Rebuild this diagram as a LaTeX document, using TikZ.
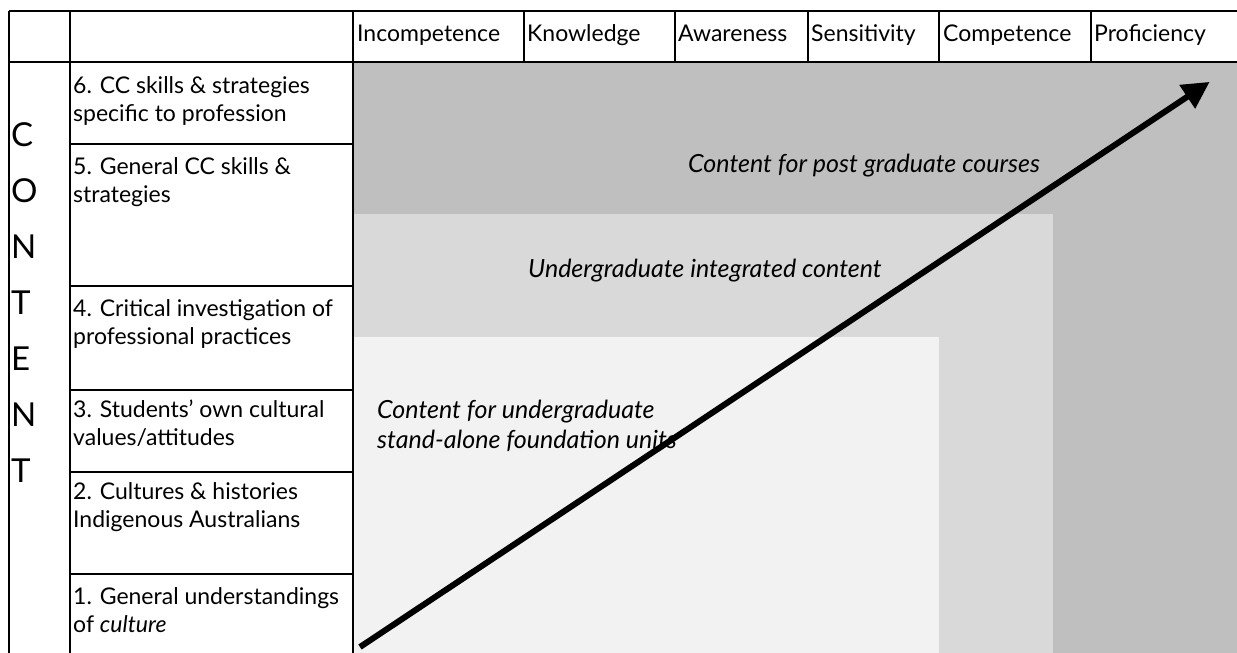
\documentclass[tikz,border=0pt]{standalone}
\usepackage{fontspec}
\setmainfont{Lato}
\usetikzlibrary{arrows.meta}
\definecolor{gdark}{HTML}{BFBFBF}
\definecolor{gmid}{HTML}{D9D9D9}
\definecolor{glight}{HTML}{F2F2F2}
\tikzset{
  gridline/.style={line width=1.6pt, black},
  celltext/.style={anchor=base west, inner sep=0pt, align=left, font=\fontsize{23}{28}\selectfont},
  headtext/.style={anchor=base west, inner sep=0pt, font=\fontsize{23}{24}\selectfont},
  zonetext/.style={anchor=base west, inner sep=0pt, align=left, font=\fontsize{25}{30}\selectfont\itshape},
  letter/.style={anchor=base west, inner sep=0pt, font=\fontsize{33}{33}\selectfont},
  bigarrow/.style={line width=6pt, -{Triangle[length=27pt,width=27pt]}, shorten >=-2pt}
}
\begin{document}
\begin{tikzpicture}[x=1pt,y=-1pt]
\useasboundingbox (0,0) rectangle (1237,653);
\fill[white] (0,0) rectangle (1237,653);
% grey zones
\fill[gdark] (353,62) rectangle (1237,653);
\fill[gmid] (353,214) rectangle (1053,653);
\fill[glight] (353,337) rectangle (939,653);
% grid
\draw[gridline] (9,11) -- (1237,11);
\draw[gridline] (9,62) -- (1237,62);
\draw[gridline] (9,11) -- (9,653);
\draw[gridline] (70,11) -- (70,653);
\draw[gridline] (353,11) -- (353,653);
\foreach \x in {524,675,808,939,1091} \draw[gridline] (\x,11) -- (\x,62);
\foreach \y in {144,286,390,472,574} \draw[gridline] (70,\y) -- (353,\y);
% header
\node[headtext] (h1) at (357,41) {Incompetence};
\node[headtext] (h2) at (527,41) {Knowledge};
\node[headtext] (h3) at (678,41) {Awareness};
\node[headtext] (h4) at (811,41) {Sensitivity};
\node[headtext] (h5) at (943,41) {Competence};
\node[headtext] (h6) at (1094,41) {Proficiency};
% CONTENT letters
\node[letter] (c1) at (11,146) {C};
\node[letter] (c2) at (11,202) {O};
\node[letter] (c3) at (11,258) {N};
\node[letter] (c4) at (11,314) {T};
\node[letter] (c5) at (11,370) {E};
\node[letter] (c6) at (11,426) {N};
\node[letter] (c7) at (11,482) {T};
% row texts (anchored at the baseline of the last line)
\node[celltext] (r6) at (73,121) {6. CC skills \& strategies\\specific to profession};
\node[celltext] (r5) at (73,202) {5. General CC skills \&\\strategies};
\node[celltext] (r4) at (73,344) {4. Critical investigation of\\professional practices};
\node[celltext] (r3) at (73,445) {3. Students' own cultural\\values/attitudes};
\node[celltext] (r2) at (73,527) {2. Cultures \& histories\\Indigenous Australians};
\node[celltext] (r1) at (73,632) {1. General understandings\\of \textit{culture}};
% zone labels
\node[zonetext] (z3) at (688,172) {Content for post graduate courses};
\node[zonetext] (z2) at (528,277) {Undergraduate integrated content};
\node[zonetext] (z1) at (377,448) {Content for undergraduate\\stand-alone foundation units};
% arrow
\coordinate (as) at (360,647);
\coordinate (ae) at (1208,83);
\draw[bigarrow] (as) -- (ae);
\end{tikzpicture}
\end{document}
